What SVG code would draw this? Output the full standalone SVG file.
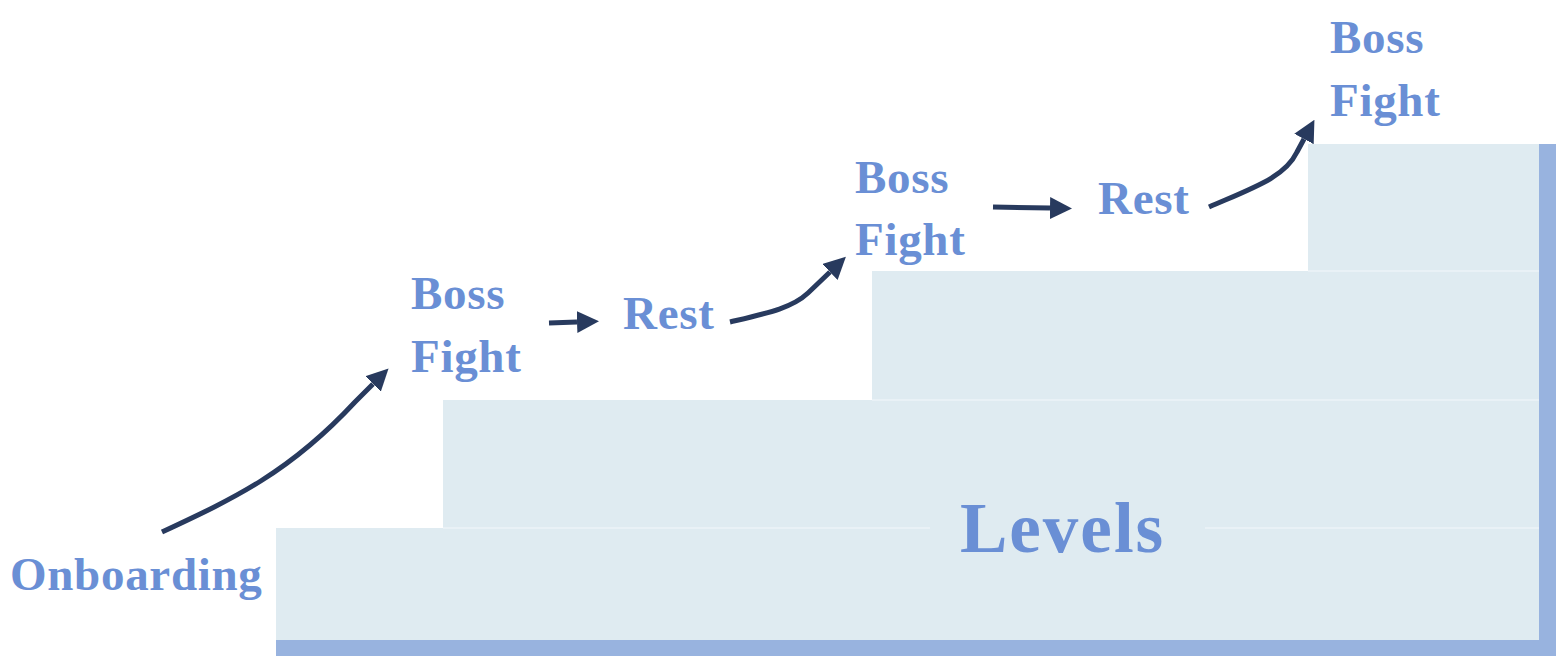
<svg xmlns="http://www.w3.org/2000/svg" width="1567" height="668" viewBox="0 0 1567 668">
<style>
.lbl{font-family:"Liberation Serif","Times New Roman",serif;font-weight:bold;font-size:47px;fill:#6a8fd5;letter-spacing:0.7px}
.big{font-size:71px;letter-spacing:2px}
.step{fill:#dfebf1}
.seam{stroke:#edf4f8;stroke-width:1.5;fill:none}
.bar{fill:#98b3df}
.arr{fill:none;stroke:#283a5e;stroke-width:5;marker-end:url(#ah)}
</style>
<defs>
<marker id="ah" markerUnits="userSpaceOnUse" markerWidth="22" markerHeight="22" refX="0" refY="10" orient="auto" viewBox="0 0 20 20">
<path d="M0,0 L20,10 L0,20 z" fill="#283a5e"/>
</marker>
</defs>
<rect width="1567" height="668" fill="#ffffff"/>
<g id="stairs">
<rect class="step" x="276" y="528" width="1263" height="112"/>
<rect class="step" x="443" y="400" width="1096" height="128"/>
<rect class="step" x="872" y="271" width="667" height="129"/>
<rect class="step" x="1308" y="144" width="231" height="127"/>
<path class="seam" d="M443,528 H930 M1205,528 H1539 M872,400 H1539 M1308,271 H1539"/>
<rect class="bar" x="276" y="640" width="1280" height="16"/>
<rect class="bar" x="1539" y="144" width="17" height="512"/>
</g>
<g id="levels"><text class="lbl big" x="960" y="552">Levels</text></g>
<g id="onboarding"><text class="lbl" x="10" y="590">Onboarding</text></g>
<g id="boss1"><text class="lbl" x="411" y="309">Boss</text><text class="lbl" x="411" y="372">Fight</text></g>
<g id="rest1"><text class="lbl" x="623" y="329">Rest</text></g>
<g id="boss2"><text class="lbl" x="855" y="193">Boss</text><text class="lbl" x="855" y="255">Fight</text></g>
<g id="rest2"><text class="lbl" x="1098" y="214">Rest</text></g>
<g id="boss3"><text class="lbl" x="1330" y="53">Boss</text><text class="lbl" x="1330" y="116">Fight</text></g>
<g id="connectors">
<path class="arr" d="M162,532 C235,498 290,472 355,402 L373,384"/>
<path class="arr" d="M549,323 L577,322"/>
<path class="arr" d="M730,322 C768,313 792,308 808,293 L830,272"/>
<path class="arr" d="M993,207 L1050,208"/>
<path class="arr" d="M1209,207 C1255,187 1285,177 1297,152 L1304,139"/>
</g>
</svg>
